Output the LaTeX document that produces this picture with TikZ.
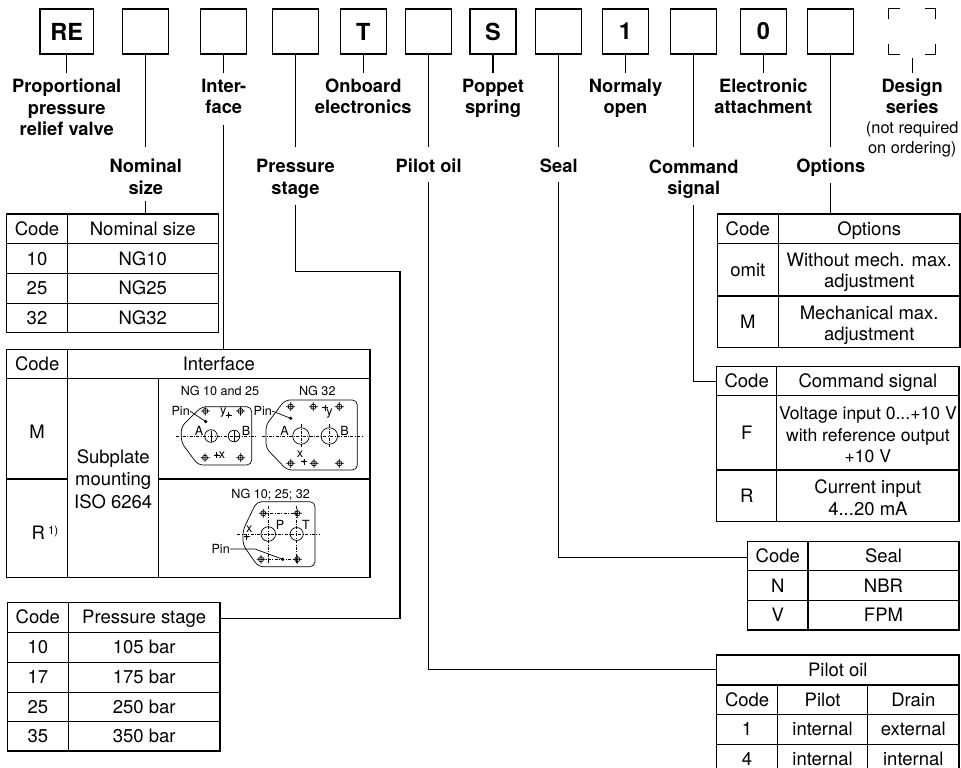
\documentclass[tikz,border=0pt]{standalone}
\usepackage{fontspec}
\setmainfont{TeX Gyre Heros}
\tikzset{
  keybox/.style={draw, line width=1.2pt, minimum width=46pt, minimum height=45pt, inner sep=0pt, font=\fontsize{23.5}{24}\selectfont\bfseries},
  lab/.style={align=center, inner sep=6pt, font=\fontsize{18.3}{21.5}\selectfont\bfseries},
  note/.style={align=center, inner sep=0pt, font=\fontsize{16.4}{19.6}\selectfont},
  tab/.style={draw, line width=1.2pt, inner sep=0pt},
  tabline/.style={line width=1.2pt},
  cell/.style={inner sep=0pt, text height=13.3pt, text depth=0pt, font=\fontsize{18.5}{21.7}\selectfont},
  mcell/.style={align=center, inner sep=0pt, font=\fontsize{18.5}{21.5}\selectfont},
  wire/.style={line width=1.1pt},
  fine/.style={line width=0.7pt},
  cline/.style={line width=0.5pt, dash pattern=on 3pt off 1.5pt on 0.8pt off 1.5pt},
  smalltxt/.style={inner sep=0pt, font=\fontsize{12.6}{14}\selectfont},
}
\newcommand{\borehole}[2]{\draw[fine] (#1,#2) circle (2.6) (#1-4.5,#2) -- (#1+4.5,#2) (#1,#2-4.5) -- (#1,#2+4.5);}
\newcommand{\portmark}[2]{\fill (#1,#2) circle (1.4); \draw[fine] (#1-3,#2) -- (#1+3,#2) (#1,#2-3) -- (#1,#2+3);}
\begin{document}
\begin{tikzpicture}[x=1pt, y=-1pt]
\path[use as bounding box, fill=white] (0,0) rectangle (961,768);
\clip (0,0) rectangle (961,768);
% type code boxes
\node (kRE) [keybox, minimum width=53.3pt] at (66.7,31.5) {RE};
\node (kNom) [keybox] at (145.8,31.5) {};
\node (kInt) [keybox] at (223.8,31.5) {};
\node (kPs) [keybox] at (295.5,31.5) {};
\node (kT) [keybox] at (363.3,31.5) {T};
\node (kPo) [keybox] at (428.7,31.5) {};
\node (kS) [keybox] at (493,31.5) {S};
\node (kSe) [keybox] at (558.8,31.5) {};
\node (kNo) [keybox] at (625.5,31.5) {1};
\node (kCs) [keybox] at (693.7,31.5) {};
\node (kEa) [keybox] at (763.3,31.5) {0};
\node (kOp) [keybox] at (830.8,31.5) {};
\node (kDs) [keybox, draw=none] at (912.2,31.5) {};
\draw[tabline] ([yshift=-11pt]kDs.north west) |- ([xshift=11pt]kDs.north west);
\draw[tabline] ([yshift=-11pt]kDs.north east) |- ([xshift=-11pt]kDs.north east);
\draw[tabline] ([yshift=11pt]kDs.south west) |- ([xshift=11pt]kDs.south west);
\draw[tabline] ([yshift=11pt]kDs.south east) |- ([xshift=-11pt]kDs.south east);
% labels
\node (lRE) [lab] at (66.7,107.4) {Proportional\\pressure\\relief valve};
\node (lNom) [lab] at (145.8,177) {Nominal\\size};
\node (lInt) [lab] at (223.8,96.5) {Inter-\\face};
\node (lPs) [lab] at (295.5,179) {Pressure\\stage};
\node (lT) [lab] at (363.3,96.5) {Onboard\\electronics};
\node (lPo) [lab] at (428.7,166) {Pilot oil};
\node (lS) [lab] at (493,98.5) {Poppet\\spring};
\node (lSe) [lab] at (558.8,166) {Seal};
\node (lNo) [lab] at (625.5,98.5) {Normaly\\open};
\node (lCs) [lab] at (693.7,179) {Command\\signal};
\node (lEa) [lab] at (763.3,96.5) {Electronic\\attachment};
\node (lOp) [lab] at (830.8,168) {Options};
\node (lDs) [lab] at (912.2,96.5) {Design\\series};
\node (lDn) [note] at (912.2,139.5) {(not required\\on ordering)};
% nominal size
\node (tNom) [tab, minimum width=211.6pt, minimum height=118.3pt] at (112.5,273.2) {};
\draw[tabline] (67.3,214) -- (67.3,332.3);
\foreach \y in {243.3,273.3,303.3} \draw[tabline] (6.7,\y) -- (218.3,\y);
\node (nomH1) [cell] at (37,228.7) {Code};
\node (nomH2) [cell] at (142.8,228.7) {Nominal size};
\foreach \c/\v [count=\i] in {10/NG10,25/NG25,32/NG32} {
  \node (nomC\i) [cell] at (37,{228.7+29.7*\i}) {\c};
  \node (nomV\i) [cell] at (142.8,{228.7+29.7*\i}) {\v};
}
% interface
\node (tInt) [tab, minimum width=363.3pt, minimum height=228pt] at (188.35,463.3) {};
\draw[tabline] (6.7,378.3) -- (370,378.3) (67.7,349.3) -- (67.7,577.3) (158.7,378.3) -- (158.7,577.3)
  (6.7,479) -- (67.7,479) (158.7,479) -- (370,479);
\node (intH1) [cell] at (37.2,363.8) {Code};
\node (intH2) [cell] at (218.8,363.8) {Interface};
\node (intM) [cell] at (37.2,431.7) {M};
\node (intR) [cell] at (45,533.3) {R\hspace{3pt}\raisebox{5pt}{\fontsize{11.5}{12}\selectfont 1)}};
\node (intSub) [mcell, font=\fontsize{18.5}{22.5}\selectfont] at (113.2,479.2) {Subplate\\mounting\\ISO 6264};
\node (ngA) [smalltxt] at (220,391) {NG 10 and 25};
\node (ngB) [smalltxt] at (317.3,391) {NG 32};
\node (ngC) [smalltxt] at (270.7,495) {NG 10; 25; 32};
% NG 10 and 25
\draw[fine, rounded corners=5pt] (201.7,406.7) -- (251.7,406.7) -- (251.7,465) -- (198,465) -- (181.3,442.3) -- (181.3,426.7) -- cycle;
\draw[cline] (176,436) -- (256,436);
\draw[fine] (211,436) circle (6.3) (234,436) circle (5.8);
\draw[fine] (211,430.5) -- (211,441.5) (234,430.5) -- (234,441.5) (234,436) -- (239.5,436);
\borehole{205.3}{411} \borehole{240.5}{411} \borehole{205}{457.7} \borehole{240.7}{457.7}
\portmark{228.7}{415} \portmark{216.7}{455}
\coordinate (pinA) at (205.7,421.5);
\fill (pinA) circle (1.8);
\node (pinLA) [smalltxt, anchor=east] at (190,411) {Pin};
\draw[fine] (pinLA.east) -- (pinA);
\node (yA) [smalltxt] at (223.3,412.3) {y};
\node (xA) [smalltxt] at (221.9,455) {x};
\node (portA1) [smalltxt] at (199,431) {A};
\node (portB1) [smalltxt] at (246,431) {B};
% NG 32
\draw[fine, rounded corners=5pt] (285,400) -- (357.3,400) -- (357.3,470) -- (287,470) -- (266,448) -- (266,425) -- cycle;
\draw[cline] (262,436) -- (362,436) (301,424) -- (301,448) (329.3,424) -- (329.3,448);
\draw[fine] (301,436) circle (8.3) (329.3,436) circle (8.3);
\borehole{290.7}{406.7} \borehole{313.3}{406.7} \borehole{339.3}{406.7}
\borehole{290.7}{463.3} \borehole{314}{463.3} \borehole{339.3}{463.3}
\portmark{325.3}{407.5} \portmark{304}{461.5}
\coordinate (pinB) at (290.7,418.3);
\fill (pinB) circle (1.8);
\node (pinLB) [smalltxt, anchor=east] at (272,411) {Pin};
\draw[fine] (pinLB.east) -- (pinB);
\node (yB) [smalltxt] at (329.5,414) {y};
\node (xB) [smalltxt] at (300,454.3) {x};
\node (portA2) [smalltxt] at (284.5,431) {A};
\node (portB2) [smalltxt] at (344.5,431) {B};
% NG 10; 25; 32
\draw[fine, rounded corners=5pt] (256.7,501.7) -- (315,501.7) -- (315,566.7) -- (258.3,566.7) -- (243,545) -- (243,530) -- cycle;
\draw[cline] (237,534) -- (320,534) (263.3,513.3) -- (297.3,513.3) (261,559.3) -- (297.3,559.3) (268.3,506) -- (268.3,564) (296.7,506) -- (296.7,564);
\draw[fine] (268.3,534) circle (7.3) (296.7,534) circle (6.5);
\borehole{263.3}{513.3} \borehole{297.3}{513.3} \borehole{261}{559.3} \borehole{297.3}{559.3}
\portmark{246.7}{536.7}
\coordinate (pinC) at (282.7,559.3);
\fill (pinC) circle (1.8);
\node (pinLC) [smalltxt, anchor=east] at (230,549) {Pin};
\draw[fine] (pinLC.east) -- (255,549) -- (pinC);
\node (xC) [smalltxt] at (249.3,529.3) {x};
\node (portP) [smalltxt] at (280,525) {P};
\node (portT) [smalltxt] at (306,525) {T};
% pressure stage
\node (tPs) [tab, minimum width=212.7pt, minimum height=148.7pt] at (113.65,676.65) {};
\draw[tabline] (68.3,602.3) -- (68.3,751);
\foreach \y in {632.3,662.3,692.3,721.7} \draw[tabline] (7.3,\y) -- (220,\y);
\node (psH1) [cell] at (37.8,617.3) {Code};
\node (psH2) [cell] at (144.2,617.3) {Pressure stage};
\foreach \c/\v [count=\i] in {10/105 bar,17/175 bar,25/250 bar,35/350 bar} {
  \node (psC\i) [cell] at (37.8,{617.3+29.7*\i}) {\c};
  \node (psV\i) [cell] at (144.2,{617.3+29.7*\i}) {\v};
}
% options
\node (tOp) [tab, minimum width=242.7pt, minimum height=133.3pt] at (838.65,280.65) {};
\draw[tabline] (778.3,214) -- (778.3,347.3) (717.3,243.3) -- (960,243.3) (717.3,296) -- (960,296);
\node (opH1) [cell] at (747.8,228.7) {Code};
\node (opH2) [cell] at (869.2,228.7) {Options};
\node (opC1) [cell] at (747.8,269.7) {omit};
\node (opV1) [mcell] at (869.2,272.5) {Without mech. max.\\adjustment};
\node (opC2) [cell] at (747.8,321.7) {M};
\node (opV2) [mcell] at (869.2,325.5) {Mechanical max.\\adjustment};
% command signal
\node (tCs) [tab, minimum width=242.3pt, minimum height=155pt] at (837.85,444.2) {};
\draw[tabline] (776.7,366.7) -- (776.7,521.7) (716.7,395.7) -- (959,395.7) (716.7,470) -- (959,470);
\node (csH1) [cell] at (746.7,381.2) {Code};
\node (csH2) [cell] at (867.9,381.2) {Command signal};
\node (csC1) [cell] at (746.7,432.9) {F};
\node (csV1) [mcell, font=\fontsize{17.6}{21.7}\selectfont] at (867.9,434.9) {Voltage input 0...+10 V\\with reference output\\+10 V};
\node (csC2) [cell] at (746.7,495.8) {R};
\node (csV2) [mcell] at (867.9,497.5) {Current input\\4...20 mA};
% seal
\node (tSe) [tab, minimum width=211.4pt, minimum height=88.3pt] at (853.3,585.85) {};
\draw[tabline] (807.9,541.7) -- (807.9,630) (747.6,570.7) -- (959,570.7) (747.6,600.7) -- (959,600.7);
\node (seH1) [cell] at (777.8,556.2) {Code};
\node (seH2) [cell] at (883.5,556.2) {Seal};
\node (seC1) [cell] at (777.8,585.7) {N};
\node (seV1) [cell] at (883.5,585.7) {NBR};
\node (seC2) [cell] at (777.8,615.3) {V};
\node (seV2) [cell] at (883.5,615.3) {FPM};
% pilot oil
\node (tPo) [tab, minimum width=242.4pt, minimum height=119pt] at (837.8,714.5) {};
\draw[tabline] (716.6,685) -- (959,685) (716.6,714.3) -- (959,714.3) (716.6,744.3) -- (959,744.3)
  (777.6,685) -- (777.6,774) (867.6,685) -- (867.6,774);
\node (poH) [cell] at (837.8,670) {Pilot oil};
\node (poH1) [cell] at (747.1,699.7) {Code};
\node (poH2) [cell] at (822.6,699.7) {Pilot};
\node (poH3) [cell] at (913.3,699.7) {Drain};
\node (poC1) [cell] at (747.1,729.3) {1};
\node (poP1) [cell] at (822.6,729.3) {internal};
\node (poD1) [cell] at (913.3,729.3) {external};
\node (poC2) [cell] at (747.1,759.2) {4};
\node (poP2) [cell] at (822.6,759.2) {internal};
\node (poD2) [cell] at (913.3,759.2) {internal};
% connectors
\draw[wire] (kRE.south) -- (lRE.north);
\draw[wire, shorten >=6pt] (kNom.south) -- (lNom.north);
\draw[wire] (lNom.south) -- (lNom.south |- tNom.north);
\draw[wire] (kInt.south) -- (lInt.north);
\draw[wire, shorten <=5pt] (lInt.south) -- (lInt.south |- tInt.north);
\draw[wire, shorten >=6pt] (kPs.south) -- (lPs.north);
\coordinate (psbend) at (400,271.7);
\draw[wire] (lPs.south) |- (psbend) |- ([yshift=-16.7pt]tPs.north east);
\draw[wire] (kT.south) -- (lT.north);
\draw[wire, shorten >=6pt] (kPo.south) -- (lPo.north);
\draw[wire, shorten <=3pt] (lPo.south) |- ([yshift=-15pt]tPo.north west);
\draw[wire] (kS.south) -- (lS.north);
\draw[wire, shorten >=6pt] (kSe.south) -- (lSe.north);
\draw[wire, shorten <=3pt] (lSe.south) |- ([yshift=-16pt]tSe.north west);
\draw[wire] (kNo.south) -- (lNo.north);
\draw[wire, shorten >=6pt] (kCs.south) -- (lCs.north);
\draw[wire] (lCs.south) |- ([yshift=-15pt]tCs.north west);
\draw[wire] (kEa.south) -- (lEa.north);
\draw[wire, shorten >=6pt] (kOp.south) -- (lOp.north);
\draw[wire] (lOp.south) -- (lOp.south |- tOp.north);
\draw[wire, shorten <=3pt] (kDs.south) -- (lDs.north);
\end{tikzpicture}
\end{document}
